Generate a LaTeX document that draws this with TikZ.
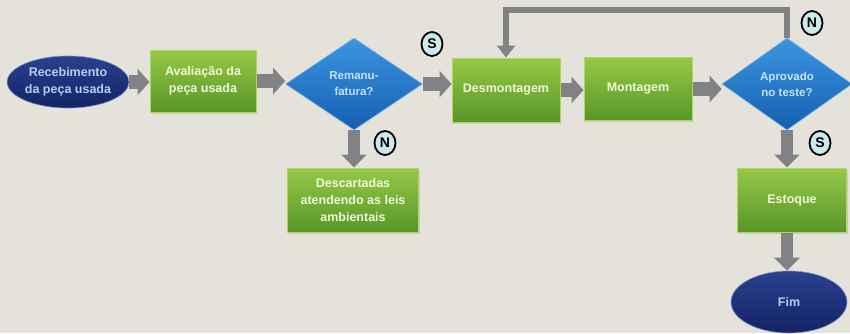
\documentclass[tikz,border=0pt]{standalone}
\usepackage{fontspec}
\setmainfont{Liberation Sans}
\usetikzlibrary{arrows.meta,shapes.geometric,shadows}
\definecolor{bgc}{RGB}{228,226,218}
\definecolor{gtop}{RGB}{150,200,70}
\definecolor{gbot}{RGB}{88,150,40}
\definecolor{gborder}{RGB}{175,215,90}
\definecolor{btop}{RGB}{60,150,225}
\definecolor{bbot}{RGB}{20,95,175}
\definecolor{ntop}{RGB}{40,65,145}
\definecolor{nbot}{RGB}{20,35,100}
\definecolor{agray}{RGB}{130,130,132}
\definecolor{gtext}{RGB}{238,248,215}
\definecolor{btext}{RGB}{195,228,248}
\definecolor{ntext}{RGB}{185,205,238}
\definecolor{lblfill}{RGB}{205,232,235}
\tikzset{
  greenbox/.style={rectangle, top color=gtop, bottom color=gbot, draw=gborder, line width=1pt,
     text=gtext, font=\bfseries\fontsize{12.5}{17}\selectfont, align=center, inner sep=0pt,
     drop shadow={opacity=0.25, shadow xshift=1pt, shadow yshift=-1.5pt}},
  bluediamond/.style={diamond, top color=btop, bottom color=bbot, draw=btop!70!white, line width=0.6pt,
     text=btext, font=\bfseries\fontsize{11.5}{16}\selectfont, align=center, inner sep=0pt},
  navyell/.style={ellipse, top color=ntop, bottom color=nbot, draw=ntop!60!white, line width=0.6pt,
     text=ntext, font=\bfseries\fontsize{12.5}{17}\selectfont, align=center, inner sep=0pt},
  bigarrow/.style={draw=agray, line width=14pt, -{Triangle[length=12pt,width=26pt]}},
  downarrow/.style={draw=agray, line width=12pt, -{Triangle[length=13pt,width=25pt]}},
  looparrow/.style={draw=agray, line width=6pt, -{Triangle[length=12pt,width=18pt]}},
  lbl/.style={ellipse, fill=lblfill, draw=black, line width=1.8pt, inner sep=0pt,
     minimum width=21pt, minimum height=24pt, font=\bfseries\fontsize{14}{15}\selectfont}
}
\begin{document}
\begin{tikzpicture}[x=1pt,y=-1pt]
\fill[bgc] (0,0) rectangle (850,333);
\useasboundingbox (0,0) rectangle (850,333);
% nodes
\node[navyell, minimum width=118pt, minimum height=52pt] (rec) at (68,82) {Recebimento\\da peça usada};
\node[greenbox, minimum width=106pt, minimum height=62pt] (aval) at (203,81) {Avaliação da\\peça usada};
\node[bluediamond, minimum width=137pt, minimum height=92pt] (rem) at (354,84) {Remanu-\\fatura?};
\node[greenbox, minimum width=108pt, minimum height=64pt] (des) at (506,90) {Desmontagem};
\node[greenbox, minimum width=108pt, minimum height=63pt] (mon) at (638,89) {Montagem};
\node[bluediamond, minimum width=130pt, minimum height=92pt] (apr) at (787,84) {Aprovado\\no teste?};
\node[greenbox, minimum width=131pt, minimum height=64pt] (desc) at (353,200) {Descartadas\\atendendo as leis\\ambientais};
\node[greenbox, minimum width=109pt, minimum height=64pt] (est) at (792,200) {Estoque};
\node[navyell, minimum width=116pt, minimum height=62pt] (fim) at (789,302) {Fim};
% connectors
\draw[bigarrow] (rec.east) -- (rec.east -| aval.west);
\draw[bigarrow] (aval.east) -- (aval.east -| rem.west);
\draw[bigarrow] (rem.east) -- (rem.east -| des.west);
\draw[bigarrow] (des.east) -- (des.east -| mon.west);
\draw[bigarrow] (mon.east) -- (mon.east -| apr.west);
\draw[downarrow] (rem.south) -- (rem.south |- desc.north);
\draw[downarrow] (apr.south) -- (apr.south |- est.north);
\draw[downarrow] (apr.south |- est.south) -- (apr.south |- fim.north);
\draw[looparrow] (apr.north) -- ++(0,-28) -| (des.north);
% labels
\node[lbl] (s1) at (432,44) {S};
\node[lbl] (n1) at (385,143) {N};
\node[lbl] (n2) at (812,23) {N};
\node[lbl] (s2) at (820,143) {S};
\end{tikzpicture}
\end{document}
